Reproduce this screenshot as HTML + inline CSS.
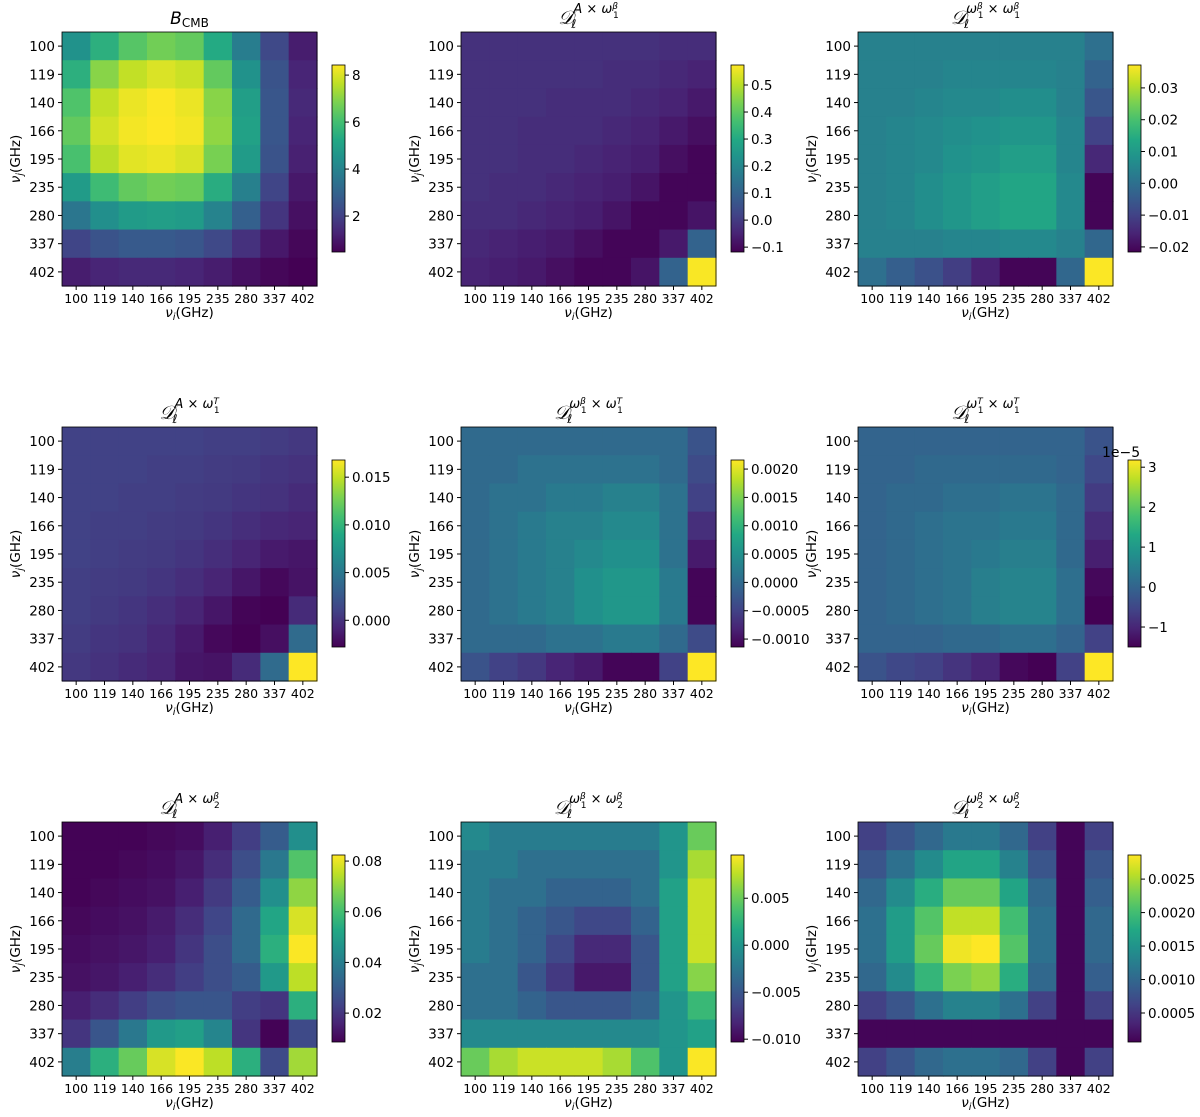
<!DOCTYPE html>
<html><head><meta charset="utf-8"><style>
body{margin:0;background:#fff}
svg text{font-family:"DejaVu Sans","Liberation Sans",sans-serif;fill:#000}
</style></head><body>
<svg id="fig" width="1200" height="1112" xmlns="http://www.w3.org/2000/svg">
<defs><linearGradient id="vir" x1="0" y1="1" x2="0" y2="0">
<stop offset="0" stop-color="#440154"/><stop offset="0.1" stop-color="#482475"/><stop offset="0.2" stop-color="#414487"/><stop offset="0.3" stop-color="#355f8d"/><stop offset="0.4" stop-color="#2a788e"/><stop offset="0.5" stop-color="#21918c"/><stop offset="0.6" stop-color="#22a884"/><stop offset="0.7" stop-color="#44bf70"/><stop offset="0.8" stop-color="#7ad151"/><stop offset="0.9" stop-color="#bddf26"/><stop offset="1" stop-color="#fde725"/>
</linearGradient></defs>
</svg>
<script>
const freqs=["100","119","140","166","195","235","280","337","402"];
const p1=[[4.5,5.5,6.3,6.7,6.5,5.3,3.8,2.2,1.1],[5.5,7.0,7.7,8.0,7.8,6.5,4.5,2.5,1.3],[6.2,7.7,8.2,8.4,8.2,7.0,4.9,2.6,1.4],[6.5,7.9,8.3,8.5,8.3,7.1,5.0,2.6,1.3],[6.1,7.6,8.1,8.2,8.0,6.8,4.8,2.5,1.2],[4.8,5.9,6.5,6.7,6.6,5.4,3.9,2.1,1.0],[3.6,4.4,4.8,4.9,4.8,4.0,2.9,1.7,0.8],[2.1,2.5,2.7,2.7,2.6,2.2,1.6,1.0,0.6],[1.1,1.3,1.4,1.4,1.3,1.1,0.8,0.6,0.45]];
const p2=[[-0.02,-0.02,-0.02,-0.02,-0.02,-0.02,-0.02,-0.03,-0.03],[-0.02,-0.02,-0.02,-0.02,-0.02,-0.03,-0.03,-0.04,-0.05],[-0.02,-0.02,-0.02,-0.03,-0.03,-0.03,-0.04,-0.05,-0.07],[-0.02,-0.02,-0.03,-0.03,-0.03,-0.04,-0.05,-0.07,-0.09],[-0.02,-0.02,-0.03,-0.03,-0.04,-0.05,-0.06,-0.09,-0.11],[-0.02,-0.03,-0.03,-0.04,-0.05,-0.06,-0.08,-0.11,-0.11],[-0.03,-0.03,-0.04,-0.05,-0.06,-0.08,-0.11,-0.11,-0.08],[-0.04,-0.05,-0.06,-0.07,-0.09,-0.11,-0.11,-0.07,0.10],[-0.05,-0.06,-0.07,-0.09,-0.11,-0.11,-0.08,0.10,0.57]];
const p3=[[.004,.004,.004,.004,.004,.004,.004,.004,.000],[.004,.004,.004,.005,.005,.005,.005,.004,-.003],[.004,.004,.005,.006,.006,.007,.007,.004,-.006],[.004,.005,.006,.007,.008,.009,.009,.005,-.010],[.004,.005,.006,.008,.009,.011,.011,.005,-.015],[.004,.005,.007,.009,.011,.013,.013,.006,-.021],[.004,.005,.007,.009,.011,.013,.013,.006,-.021],[.004,.004,.004,.005,.005,.006,.006,.004,-.002],[.000,-.004,-.007,-.011,-.016,-.021,-.021,-.002,.037]];
const p4=[[.0010,.0010,.0010,.0010,.0010,.0008,.0008,.0006,.0004],[.0010,.0010,.0010,.0008,.0008,.0006,.0005,.0002,.0000],[.0010,.0010,.0008,.0008,.0006,.0005,.0002,.0000,-.0004],[.0010,.0008,.0008,.0006,.0005,.0002,-.0002,-.0006,-.0008],[.0010,.0008,.0006,.0005,.0002,-.0002,-.0008,-.0014,-.0016],[.0008,.0006,.0005,.0002,-.0002,-.0008,-.0016,-.0024,-.0018],[.0008,.0005,.0002,-.0002,-.0008,-.0016,-.0026,-.0028,-.0004],[.0006,.0002,.0000,-.0006,-.0014,-.0024,-.0028,-.0020,.0040],[.0004,.0000,-.0004,-.0008,-.0016,-.0018,-.0004,.0040,.0168]];
const p5=[[.0000,.0000,.0000,.0000,.0000,.0000,.0000,.0000,-.0003],[.0000,.0000,.0001,.0001,.0001,.0001,.0001,.0000,-.0004],[.0000,.0001,.0001,.0002,.0002,.0003,.0003,.0001,-.0005],[.0000,.0001,.0002,.0003,.0003,.0004,.0004,.0001,-.0007],[.0000,.0001,.0002,.0003,.0004,.0005,.0005,.0001,-.0009],[.0000,.0001,.0002,.0003,.0005,.0006,.0006,.0002,-.0011],[.0000,.0001,.0002,.0003,.0005,.0006,.0006,.0002,-.0011],[.0000,.0000,.0000,.0001,.0001,.0002,.0002,.0000,-.0004],[-.0003,-.0005,-.0006,-.0008,-.0009,-.0011,-.0011,-.0005,.0022]];
const p6=[[0.0,0.0,0.0,0.0,0.0,0.0,0.0,0.0,-0.3],[0.0,0.0,0.1,0.1,0.1,0.1,0.1,0.0,-0.5],[0.0,0.1,0.1,0.2,0.2,0.3,0.3,0.1,-0.7],[0.0,0.1,0.2,0.3,0.3,0.4,0.4,0.1,-0.9],[0.0,0.1,0.2,0.3,0.4,0.5,0.5,0.1,-1.1],[0.0,0.1,0.2,0.3,0.5,0.6,0.6,0.2,-1.4],[0.0,0.1,0.2,0.3,0.5,0.6,0.6,0.2,-1.5],[0.0,0.0,0.0,0.1,0.1,0.2,0.2,0.0,-0.6],[-0.3,-0.5,-0.6,-0.8,-1.0,-1.4,-1.5,-0.6,3.2]];
const p7=[[.009,.009,.009,.010,.011,.015,.022,.030,.045],[.009,.009,.010,.011,.013,.018,.026,.038,.062],[.009,.010,.011,.012,.015,.021,.030,.045,.070],[.010,.011,.012,.014,.018,.024,.034,.052,.078],[.011,.012,.013,.015,.020,.026,.034,.055,.082],[.012,.013,.015,.018,.022,.026,.030,.048,.075],[.015,.018,.022,.026,.028,.028,.022,.020,.055],[.020,.028,.038,.048,.050,.042,.020,.009,.025],[.040,.055,.065,.078,.082,.075,.055,.025,.072]];
const p8=[[-.001,-.002,-.002,-.002,-.002,-.002,-.002,.000,.005],[-.002,-.002,-.003,-.003,-.003,-.003,-.003,.000,.007],[-.002,-.003,-.003,-.004,-.004,-.004,-.003,.001,.008],[-.002,-.003,-.004,-.005,-.006,-.006,-.004,.001,.008],[-.002,-.003,-.004,-.006,-.008,-.008,-.005,.001,.008],[-.003,-.003,-.005,-.007,-.009,-.009,-.005,.001,.006],[-.003,-.003,-.004,-.005,-.005,-.005,-.004,.000,.003],[-.001,-.001,-.001,-.001,-.001,-.001,-.001,.000,.001],[.005,.007,.008,.008,.008,.007,.004,.000,.0095]];
const p9=[[.0006,.0008,.0010,.0012,.0012,.0010,.0006,.0001,.0006],[.0008,.0011,.0014,.0017,.0017,.0013,.0008,.0001,.0008],[.0010,.0014,.0018,.0022,.0022,.0017,.0010,.0001,.0009],[.0011,.0016,.0021,.0026,.0026,.0020,.0011,.0001,.0010],[.0011,.0016,.0022,.0028,.0029,.0021,.0011,.0001,.0010],[.0010,.0014,.0019,.0023,.0024,.0018,.0010,.0001,.0009],[.0006,.0008,.0011,.0013,.0013,.0011,.0006,.0001,.0006],[.0001,.0001,.0001,.0001,.0001,.0001,.0001,.0001,.0001],[.0006,.0008,.0010,.0011,.0011,.0010,.0006,.0001,.0006]];
const ticks1=[2,4,6,8],ticks2=[-0.1,0.0,0.1,0.2,0.3,0.4,0.5],ticks3=[-0.02,-0.01,0.00,0.01,0.02,0.03];
const ticks4=[0,0.005,0.010,0.015],ticks5=[-0.0010,-0.0005,0.0000,0.0005,0.0010,0.0015,0.0020],ticks6=[-1,0,1,2,3];
const ticks7=[0.02,0.04,0.06,0.08],ticks8=[-0.010,-0.005,0.000,0.005],ticks9=[0.0005,0.0010,0.0015,0.0020,0.0025];
const tlab1=["2","4","6","8"],tlab2=["−0.1","0.0","0.1","0.2","0.3","0.4","0.5"],tlab3=["−0.02","−0.01","0.00","0.01","0.02","0.03"];
const tlab4=["0.000","0.005","0.010","0.015"],tlab5=["−0.0010","−0.0005","0.0000","0.0005","0.0010","0.0015","0.0020"],tlab6=["−1","0","1","2","3"];
const tlab7=["0.02","0.04","0.06","0.08"],tlab8=["−0.010","−0.005","0.000","0.005"],tlab9=["0.0005","0.0010","0.0015","0.0020","0.0025"];
const panels=[
{d:p1,lo:0.47,hi:8.43,t:ticks1,l:tlab1,sup:null,name:"b-cmb"},
{d:p2,lo:-0.118,hi:0.574,t:ticks2,l:tlab2,sup:["A × ω","β","1"],name:"a-x-w1b"},
{d:p3,lo:-0.0216,hi:0.0372,t:ticks3,l:tlab3,sup:["ω","β","1"," × ω","β","1"],name:"w1b-x-w1b"},
{d:p4,lo:-0.0028,hi:0.0168,t:ticks4,l:tlab4,sup:["A × ω","T","1"],name:"a-x-w1t"},
{d:p5,lo:-0.00114,hi:0.00216,t:ticks5,l:tlab5,sup:["ω","β","1"," × ω","T","1"],name:"w1b-x-w1t"},
{d:p6,lo:-1.5,hi:3.18,t:ticks6,l:tlab6,sup:["ω","T","1"," × ω","T","1"],name:"w1t-x-w1t"},
{d:p7,lo:0.0086,hi:0.0824,t:ticks7,l:tlab7,sup:["A × ω","β","2"],name:"a-x-w2b"},
{d:p8,lo:-0.0103,hi:0.0096,t:ticks8,l:tlab8,sup:["ω","β","1"," × ω","β","2"],name:"w1b-x-w2b"},
{d:p9,lo:0.000067,hi:0.00286,t:ticks9,l:tlab9,sup:["ω","β","2"," × ω","β","2"],name:"w2b-x-w2b"}];
const vir=[[68,1,84],[72,36,117],[65,68,135],[53,95,141],[42,120,142],[33,145,140],[34,168,132],[68,191,112],[122,209,81],[189,223,38],[253,231,37]];
function cmap(f){f=Math.max(0,Math.min(1,f));const x=f*10,i=Math.min(9,Math.floor(x)),r=x-i;const a=vir[i],b=vir[i+1];return `rgb(${a.map((v,k)=>Math.round(v+(b[k]-v)*r)).join(",")})`;}
const svg=document.getElementById('fig'),NS="http://www.w3.org/2000/svg";
function mk(t,at,par){const e=document.createElementNS(NS,t);for(const k in at)e.setAttribute(k,at[k]);(par||svg).appendChild(e);return e;}
const PX=[62,461,858],PY=[32,427,822],W=255,H=254,cw=W/9,ch=H/9;
panels.forEach((p,idx)=>{
 const x0=PX[idx%3],y0=PY[Math.floor(idx/3)];
 const g=mk('g',{});
 
 
 const xs=j=>x0+j*cw, ys=i=>y0+i*ch;
 p.d.forEach((row,i)=>row.forEach((v,j)=>{
  const r=mk('rect',{x:xs(j),y:ys(i),width:cw+0.6,height:ch+0.6,fill:cmap((v-p.lo)/(p.hi-p.lo))},g);
  
  
 }));
 mk('rect',{x:x0,y:y0,width:W,height:H,fill:'none',stroke:'#000','stroke-width':0.8},g);
 freqs.forEach((f,k)=>{
  mk('line',{x1:x0-4,x2:x0,y1:ys(k)+ch/2,y2:ys(k)+ch/2,stroke:'#000'},g);
  const ty=mk('text',{x:x0-7,y:ys(k)+ch/2+5,'text-anchor':'end','font-size':13.5},g);ty.textContent=f;
  
  
  mk('line',{x1:xs(k)+cw/2,x2:xs(k)+cw/2,y1:y0+H,y2:y0+H+4,stroke:'#000'},g);
  const tx=mk('text',{x:xs(k)+cw/2,y:y0+H+17,'text-anchor':'middle','font-size':12.5},g);tx.textContent=f;
  
  
 });
 const xl=mk('text',{x:x0+W/2,y:y0+H+31,'text-anchor':'middle','font-size':13.5},g);
 xl.innerHTML='<tspan font-style="italic">ν</tspan><tspan font-size="10" dy="3" font-style="italic">i</tspan><tspan dy="-3">(GHz)</tspan>';
 
 
 const yl=mk('text',{x:0,y:0,'text-anchor':'middle','font-size':13.5,transform:`translate(${x0-42},${y0+H/2}) rotate(-90)`},g);
 yl.innerHTML='<tspan font-style="italic">ν</tspan><tspan font-size="10" dy="3" font-style="italic">j</tspan><tspan dy="-3">(GHz)</tspan>';
 
 
 const tt=mk('text',{x:x0+W/2,y:y0-8,'text-anchor':'middle','font-size':16},g);
 if(!p.sup){tt.innerHTML='<tspan font-style="italic" font-size="17">B</tspan><tspan font-size="12" dy="3">CMB</tspan>';}
 else{let s='<tspan font-family="DejaVu Serif,serif" font-style="italic" font-size="19">𝒟</tspan><tspan font-size="12" font-style="italic" dy="4" dx="-2">ℓ</tspan><tspan font-size="13" font-style="italic" dy="-15" dx="-3">';
  s+=p.sup[0]+'</tspan><tspan font-size="9" dy="-4" font-style="italic">'+p.sup[1]+'</tspan><tspan font-size="9" dy="9" dx="-5">'+p.sup[2]+'</tspan>';
  if(p.sup.length>3)s+='<tspan font-size="13" font-style="italic" dy="-5">'+p.sup[3]+'</tspan><tspan font-size="9" dy="-4" font-style="italic">'+p.sup[4]+'</tspan><tspan font-size="9" dy="9" dx="-5">'+p.sup[5]+'</tspan>';
  tt.innerHTML=s;}
 
 
 const cx=x0+270,cy=y0+33,chh=187;
 const cb=mk('rect',{x:cx,y:cy,width:13,height:chh,fill:'url(#vir)',stroke:'#000','stroke-width':0.8},g);
 
 
 p.t.forEach((tv,k)=>{const y=cy+chh-(tv-p.lo)/(p.hi-p.lo)*chh;
  mk('line',{x1:cx+13,x2:cx+17,y1:y,y2:y,stroke:'#000'},g);
  const tl=mk('text',{x:cx+20,y:y+5,'font-size':13.5},g);tl.textContent=p.l[k];
  
  });
 if(idx===5){const e=mk('text',{x:cx-26,y:cy-3,'font-size':14},g);e.textContent='1e−5';
  
  }
});
</script>
</body></html>
